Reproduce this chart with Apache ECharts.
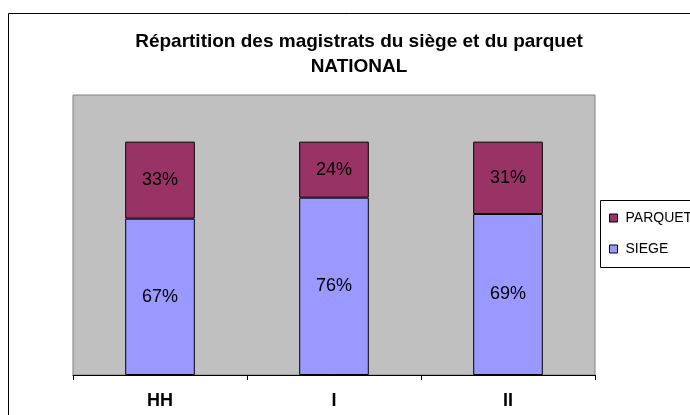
<!DOCTYPE html>
<html>
<head>
<meta charset="utf-8">
<script src="https://cdn.jsdelivr.net/npm/echarts@6/dist/echarts.min.js"></script>
<style>
  html, body { margin: 0; padding: 0; background: #fff; }
  #chart { width: 690px; height: 415px; }
</style>
</head>
<body>
<div id="chart"></div>
<script>
// categories and values (percent)
var categories = ['HH', 'I', 'II'];
var siege = [67, 76, 69];
var parquet = [33, 24, 31];

var myChart = echarts.init(document.getElementById('chart'));

var font = '"Liberation Sans", Arial, sans-serif';

var option = {
  animation: false,
  backgroundColor: '#fff',
  title: {
    text: 'Répartition des magistrats du siège et du parquet\nNATIONAL',
    left: 354,
    textAlign: 'center',
    top: 24,
    textStyle: {
      fontFamily: font,
      fontSize: 19,
      fontWeight: 'bold',
      color: '#000',
      lineHeight: 25
    }
  },
  // outer frame + legend box
  graphic: [
    {
      type: 'rect',
      shape: { x: 8.5, y: 13.5, width: 700, height: 420 },
      style: { fill: 'none', stroke: '#000', lineWidth: 1 },
      silent: true
    },
    {
      type: 'rect',
      shape: { x: 600.5, y: 200.5, width: 100, height: 67 },
      style: { fill: '#fff', stroke: '#000', lineWidth: 1 },
      silent: true,
      z: 0
    }
  ],
  legend: {
    orient: 'vertical',
    left: 604,
    top: 206,
    itemWidth: 8,
    itemHeight: 8,
    itemGap: 17,
    icon: 'rect',
    data: ['PARQUET', 'SIEGE'],
    textStyle: { fontFamily: font, fontSize: 14, color: '#000', padding: [0, 0, 0, 3] },
    itemStyle: { borderColor: '#000', borderWidth: 1 },
    z: 5
  },
  grid: {
    left: 73,
    right: 95,
    top: 95,
    bottom: 40,
    show: true,
    backgroundColor: '#C0C0C0',
    borderColor: '#808080',
    borderWidth: 1
  },
  xAxis: {
    type: 'category',
    data: categories,
    axisLine: { lineStyle: { color: '#000', width: 1 } },
    axisTick: { show: true, length: 5, lineStyle: { color: '#000' } },
    axisLabel: {
      fontFamily: font,
      fontSize: 18,
      fontWeight: 'bold',
      color: '#000',
      margin: 17
    }
  },
  yAxis: {
    type: 'value',
    min: 0,
    max: 120,
    show: false,
    splitLine: { show: false }
  },
  series: [
    {
      name: 'SIEGE',
      type: 'bar',
      stack: 'total',
      barWidth: '40%',
      data: siege,
      itemStyle: { color: '#9999FF', borderColor: '#000', borderWidth: 1 },
      label: {
        show: true,
        position: 'inside',
        formatter: '{c}%',
        fontFamily: font,
        fontSize: 18,
        color: '#000'
      }
    },
    {
      name: 'PARQUET',
      type: 'bar',
      stack: 'total',
      barWidth: '40%',
      data: parquet,
      itemStyle: { color: '#993366', borderColor: '#000', borderWidth: 1 },
      label: {
        show: true,
        position: 'inside',
        formatter: '{c}%',
        fontFamily: font,
        fontSize: 18,
        color: '#000'
      }
    }
  ]
};

myChart.setOption(option);
</script>
</body>
</html>
